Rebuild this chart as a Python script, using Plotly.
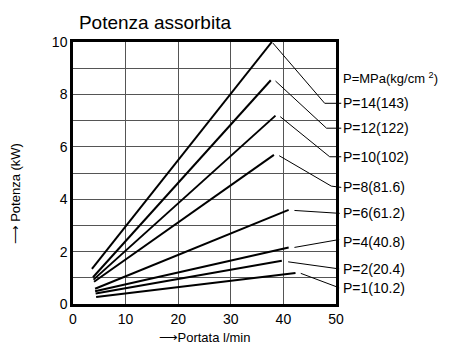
import plotly.graph_objects as go

# Data: flow (l/min) vs absorbed power (kW), start/end points per pressure curve
labels = ["P=14(143)", "P=12(122)", "P=10(102)", "P=8(81.6)",
          "P=6(61.2)", "P=4(40.8)", "P=2(20.4)", "P=1(10.2)"]
x_start = [3.6, 3.8, 3.9, 4.0, 4.2, 4.2, 4.3, 4.4]
y_start = [1.34, 1.02, 0.93, 0.85, 0.58, 0.49, 0.40, 0.27]
x_end = [37.8, 37.6, 38.5, 38.2, 41.0, 41.0, 39.7, 42.3]
y_end = [10.0, 8.54, 7.19, 5.69, 3.59, 2.16, 1.65, 1.18]

# label positions (data coords, right of plot) and leader lines
label_y = [7.66, 6.71, 5.62, 4.45, 3.46, 2.38, 1.35, 0.60]
leaders = [
    [(38.0, 9.96), (47.85, 7.66), (51.0, 7.66)],
    [(38.5, 8.51), (48.2, 6.71), (51.0, 6.71)],
    [(39.4, 7.15), (48.8, 5.62), (51.0, 5.62)],
    [(39.2, 5.66), (49.1, 4.50), (51.0, 4.45)],
    [(42.1, 3.57), (50.7, 3.46)],
    [(42.1, 2.16), (50.6, 2.46)],
    [(40.9, 1.61), (50.6, 1.34)],
    [(43.3, 1.17), (50.6, 0.62)],
]
x_ticks = [0, 10, 20, 30, 40, 50]
y_ticks = [0, 2, 4, 6, 8, 10]
X_MAX, Y_MAX = 50, 10
LABEL_X = 51.0

FONT = "Liberation Sans, Arial, sans-serif"
fig = go.Figure()
for i, lab in enumerate(labels):
    fig.add_trace(go.Scatter(x=[x_start[i], x_end[i]], y=[y_start[i], y_end[i]],
                             mode="lines", line=dict(color="black", width=2),
                             name=lab, showlegend=False, hoverinfo="skip"))

shapes = []
for pts in leaders:
    path = "M " + " L ".join(f"{px / X_MAX:.4f},{py / Y_MAX:.4f}" for px, py in pts)
    shapes.append(dict(type="path", path=path, xref="paper", yref="paper",
                       line=dict(color="black", width=1)))

annotations = []
for lab, ly in zip(labels, label_y):
    annotations.append(dict(x=LABEL_X / X_MAX, y=ly / Y_MAX, xref="paper", yref="paper",
                            text=lab, showarrow=False,
                            xanchor="left", yanchor="middle",
                            font=dict(size=14, color="black", family=FONT)))
annotations.append(dict(x=LABEL_X / X_MAX, y=8.61 / Y_MAX, xref="paper", yref="paper",
                        text="P=MPa(kg/cm <sup>2</sup>)",
                        showarrow=False, xanchor="left", yanchor="middle",
                        font=dict(size=13, color="black", family=FONT)))
annotations.append(dict(x=-0.215, y=0.42, xref="paper", yref="paper", text="⟶ Potenza (kW)",
                        textangle=-90, showarrow=False, xanchor="center", yanchor="middle",
                        font=dict(size=13, color="black", family=FONT)))

fig.update_layout(
    width=457, height=347,
    margin=dict(l=73, r=121, t=42, b=43, autoexpand=False),
    paper_bgcolor="white", plot_bgcolor="white",
    title=dict(text="Potenza assorbita", x=0.0225, xref="paper", xanchor="left",
               y=1 - 22 / 347, yref="container", yanchor="middle",
               font=dict(size=19, color="black", family=FONT)),
    shapes=shapes, annotations=annotations,
    font=dict(family=FONT, color="black"),
)
fig.update_xaxes(range=[0, X_MAX], tickvals=x_ticks, showline=True, linewidth=2.5,
                 linecolor="black", mirror=True, showgrid=True, gridcolor="#555",
                 gridwidth=1, zeroline=False, ticks="", tickfont=dict(size=14),
                 automargin=False,
                 title=dict(text="⟶Portata l/min", font=dict(size=13), standoff=8))
fig.update_yaxes(range=[0, Y_MAX], tickvals=y_ticks, showline=True, linewidth=2.5,
                 linecolor="black", mirror=True, showgrid=True, gridcolor="#555",
                 gridwidth=1, zeroline=False, ticks="", tickfont=dict(size=14),
                 automargin=False,
                 minor=dict(dtick=1, showgrid=True, gridcolor="#555", gridwidth=1))

fig.write_html("out.html", config={"displayModeBar": False},
               post_script="document.body.style.margin='0';document.body.style.overflow='hidden';")
